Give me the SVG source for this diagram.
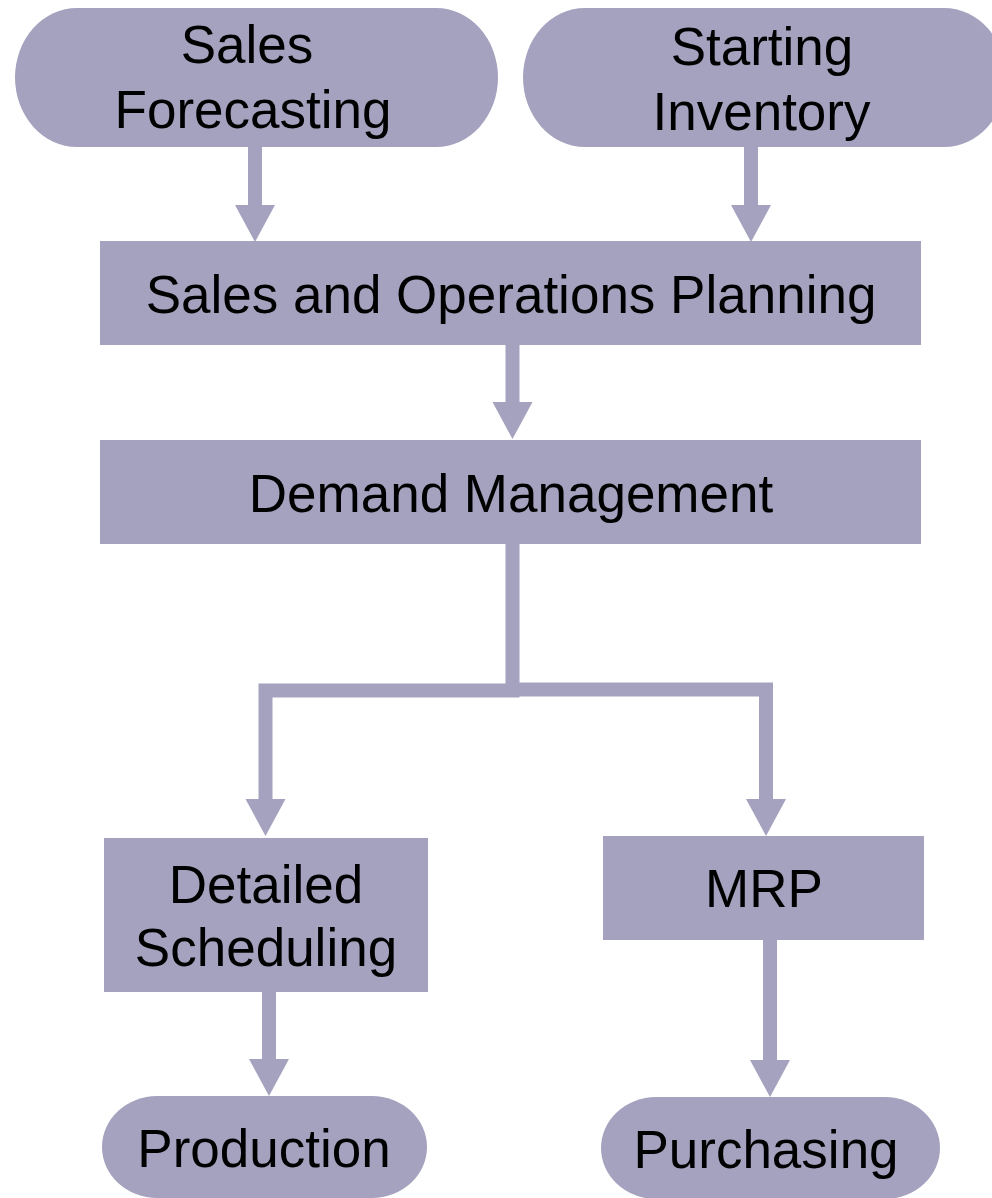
<svg xmlns="http://www.w3.org/2000/svg" width="992" height="1198" viewBox="0 0 992 1198">
  <style>
    .box { fill: #A4A2BE; }
    .label { font-family: "Liberation Sans", Arial, sans-serif; font-size: 53px; fill: #000000; text-anchor: middle; }
    .flow { fill: none; stroke: #A4A2BE; stroke-width: 14; stroke-linejoin: miter; stroke-linecap: butt; marker-end: url(#head); }
    .flow-plain { fill: none; stroke: #A4A2BE; stroke-width: 14; stroke-linejoin: miter; stroke-linecap: butt; }
  </style>
  <defs>
    <marker id="head" markerUnits="userSpaceOnUse" markerWidth="40" markerHeight="40" refX="0" refY="20" orient="auto" overflow="visible">
      <path d="M0,0 L37,20 L0,40 Z" fill="#A4A2BE"/>
    </marker>
  </defs>
  <rect width="992" height="1198" fill="#FFFFFF"/>

  <!-- connectors -->
  <g id="connectors">
    <path class="flow" d="M255,147 V205"/>
    <path class="flow" d="M751,147 V205"/>
    <path class="flow" d="M512.5,345 V402"/>
    <path class="flow" d="M512.5,544 V690.5 H265.5 V799"/>
    <path class="flow" d="M512.5,689.5 H766 V799"/>
    <path class="flow" d="M269,992 V1059"/>
    <path class="flow" d="M770,940 V1060"/>
  </g>

  <g id="sales-forecasting">
    <rect class="box" x="15" y="8" width="483" height="139" rx="62" ry="69.5"/>
    <text class="label" x="247" y="63">Sales</text>
    <text class="label" x="253" y="128">Forecasting</text>
  </g>

  <g id="starting-inventory">
    <rect class="box" x="523" y="8" width="483" height="139" rx="62" ry="69.5"/>
    <text class="label" x="762" y="65">Starting</text>
    <text class="label" x="761.5" y="130">Inventory</text>
  </g>

  <g id="sop">
    <rect class="box" x="100" y="241" width="821" height="104"/>
    <text class="label" x="511" y="313">Sales and Operations Planning</text>
  </g>

  <g id="demand-management">
    <rect class="box" x="100" y="440" width="821" height="104"/>
    <text class="label" x="511" y="512">Demand Management</text>
  </g>

  <g id="detailed-scheduling">
    <rect class="box" x="104" y="838" width="324" height="154"/>
    <text class="label" x="266" y="903">Detailed</text>
    <text class="label" x="266" y="966">Scheduling</text>
  </g>

  <g id="mrp">
    <rect class="box" x="603" y="836" width="321" height="104"/>
    <text class="label" x="764" y="907">MRP</text>
  </g>

  <g id="production">
    <rect class="box" x="102" y="1096" width="325" height="102" rx="55" ry="51"/>
    <text class="label" x="264" y="1167">Production</text>
  </g>

  <g id="purchasing">
    <rect class="box" x="601" y="1097" width="339" height="102" rx="55" ry="51"/>
    <text class="label" x="766" y="1168">Purchasing</text>
  </g>
</svg>
